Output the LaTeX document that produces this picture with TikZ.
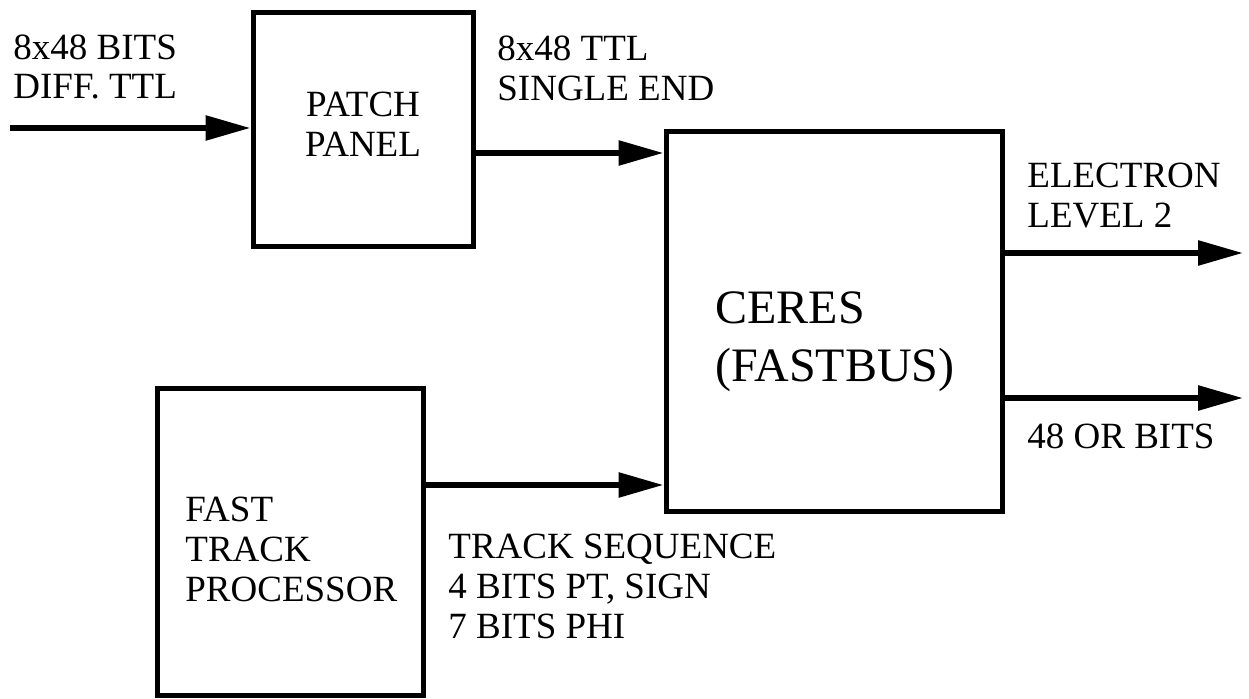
\documentclass[tikz,border=0pt]{standalone}
\usepackage{fontspec}
\setmainfont{Liberation Serif}
\usetikzlibrary{arrows.meta}
\begin{document}
\begin{tikzpicture}[x=0.5pt,y=-0.5pt,
  box/.style={draw, line width=2.5pt, inner sep=0pt},
  lbl/.style={inner sep=0pt, anchor=north west, align=left, font=\fontsize{18.5}{20}\selectfont},
  ctr/.style={inner sep=0pt, align=center, font=\fontsize{18.5}{20}\selectfont},
  arr/.style={line width=2.9pt, -{Triangle[length=22.5pt,width=12pt]}}
]
\useasboundingbox (0,0) rectangle (1249,699);
% boxes
\node[box, minimum width=110pt, minimum height=117pt] (patch) at (363,130) {};
\node[box, minimum width=168pt, minimum height=190pt] (ceres) at (834,322) {};
\node[box, minimum width=133pt, minimum height=153.5pt] (ftp) at (290,542.5) {};
% texts
\node[ctr] (patchtxt) at (363,124) {PATCH\\PANEL};
\node[lbl, font=\fontsize{24}{29}\selectfont] (cerestxt) at (715,291) {CERES\\(FASTBUS)};
\node[lbl] (ftptxt) at (185,497) {FAST\\TRACK\\PROCESSOR};
\node[lbl] (lin) at (13,34) {8x48 BITS\\DIFF. TTL};
\node[lbl] (lout) at (497,36) {8x48 TTL\\SINGLE END};
\node[lbl] (lel) at (1027,163) {ELECTRON\\LEVEL 2};
\node[lbl] (lor) at (1027,423) {48 OR BITS};
\node[lbl] (lts) at (448,534) {TRACK SEQUENCE\\4 BITS PT, SIGN\\7 BITS PHI};
% connectors
\coordinate (src) at (10,128);
\draw[arr] (src) -- (src -| patch.west);
\coordinate (p1) at ([yshift=-11.5pt]patch.east);
\draw[arr] (p1) -- (p1 -| ceres.west);
\coordinate (f1) at ([yshift=28.75pt]ftp.east);
\draw[arr] (f1) -- (f1 -| ceres.west);
\coordinate (tip) at (1243,0);
\coordinate (o1) at ([yshift=34.5pt]ceres.east);
\draw[arr] (o1) -- (o1 -| tip);
\coordinate (o2) at ([yshift=-38pt]ceres.east);
\draw[arr] (o2) -- (o2 -| tip);
\end{tikzpicture}
\end{document}
